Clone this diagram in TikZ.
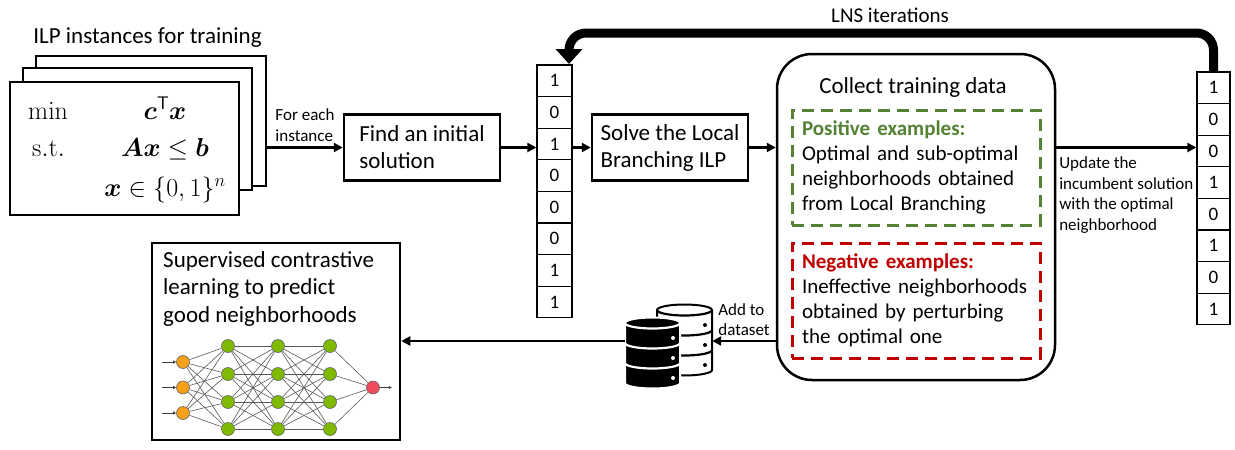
\documentclass[tikz,border=0pt]{standalone}
\usepackage{fix-cm}
\usepackage{amsmath}
\usepackage{amssymb}
\usepackage[no-math]{fontspec}
\setmainfont{Carlito}
\usetikzlibrary{arrows.meta}

\definecolor{posgreen}{HTML}{548235}
\definecolor{negred}{HTML}{C00000}
\definecolor{nnorange}{HTML}{F7A11A}
\definecolor{nngreen}{HTML}{7FBA00}
\definecolor{nnred}{HTML}{F04C5C}

\tikzset{
	stepbox/.style={draw, line width=2.5pt, align=left, minimum width=156pt, minimum height=66pt, font=\fontsize{23}{27}\selectfont},
	card/.style={draw, line width=2.5pt, fill=white},
	mathtxt/.style={inner sep=0pt, font=\fontsize{26}{30}\selectfont},
	bitcell/.style={draw, line width=1.3pt, minimum height=31.6pt, inner sep=0pt, font=\fontsize{19}{19}\selectfont},
	flow/.style={line width=2.5pt, -{Triangle[length=9pt,width=9pt]}},
	smalltxt/.style={align=left, inner sep=2pt, font=\fontsize{17}{20.5}\selectfont},
	examplebox/.style={line width=3pt, dash pattern=on 12pt off 7pt, text width=228pt, align=left, inner xsep=10pt, minimum height=115pt, font=\fontsize{21}{25}\selectfont},
	nnunit/.style={circle, draw=black!60, line width=0.6pt, minimum size=13pt, inner sep=0pt},
	nnedge/.style={black!65, line width=0.6pt},
	nnarrow/.style={black!75, line width=0.7pt, -{Triangle[length=3pt,width=3pt]}},
	dbhold/.style={inner sep=0pt, minimum width=55pt}
}

% stacked disks of a database icon: left x, top y, body colour, line colour
\newcommand{\dbdisks}[4]{%
	\begin{scope}[shift={(#1,-#2)}]
		\filldraw[fill=#3, draw=#4, line width=2pt]
			(0,0) -- (0,-60) arc[start angle=180, end angle=360, x radius=27.5, y radius=5.5]
			-- (55,0) arc[start angle=0, end angle=180, x radius=27.5, y radius=5.5] -- cycle;
		\foreach \k in {0,1,2}
			\draw[#4, line width=2.2pt] (0,-20*\k) arc[start angle=180, end angle=360, x radius=27.5, y radius=5.5];
		\foreach \k in {0,1,2}
			\fill[#4] (48,{-15-20*\k}) circle (2);
	\end{scope}}

\begin{document}
\begin{tikzpicture}[x=1pt, y=1pt]
	\useasboundingbox (0,0) rectangle (1235,-450);

	% ILP instances
	\node[font=\fontsize{23}{27}\selectfont] (ilptitle) at (147.5,-38) {ILP instances for training};
	\node[card, minimum width=230pt, minimum height=130pt] (card3) at (151,-121) {};
	\node[card, minimum width=229pt, minimum height=122pt] (card2) at (137.5,-129) {};
	\node[card, minimum width=229pt, minimum height=133pt] (card1) at (124.5,-148.5) {};
	\node[mathtxt, anchor=base west] (min) at (28,-119) {$\min$};
	\node[mathtxt, anchor=base west] (st) at (32,-156) {$\mathrm{s.t.}$};
	\node[mathtxt, anchor=base] (obj) at (165,-119) {$\boldsymbol{c}^{\mathsf{T}}\boldsymbol{x}$};
	\node[mathtxt, anchor=base] (con) at (165,-156) {$\boldsymbol{Ax}\leq\boldsymbol{b}$};
	\node[mathtxt, anchor=base] (dom) at (165,-196) {$\boldsymbol{x}\in\{0,1\}^n$};

	\node[stepbox] (find) at (422,-147.5) {Find an initial\\solution};
	\node[stepbox] (solve) at (670,-147.5) {Solve the Local\\Branching ILP};

	% incumbent solutions
	\foreach \bit [count=\i] in {1,0,1,0,0,0,1,1}
		\node[bitcell, minimum width=35pt] (v1-\i) at (554.5,{-80.8-31.6*(\i-1)}) {\bit};
	\foreach \bit [count=\i] in {1,0,0,1,0,1,0,1}
		\node[bitcell, minimum width=33pt] (v2-\i) at (1213.5,{-87.8-31.6*(\i-1)}) {\bit};

	% collect training data
	\node[draw, line width=2.5pt, rounded corners=35pt, minimum width=278pt, minimum height=326pt] (collect) at (916,-217) {};
	\node[font=\fontsize{23}{27}\selectfont] (collecttitle) at (913,-87) {Collect training data};
	\node[examplebox, draw=posgreen] (pos) at (916,-167.5) {\textcolor{posgreen}{\textbf{Positive examples:}}\\Optimal and sub-optimal\\neighborhoods obtained\\from Local Branching};
	\node[examplebox, draw=negred] (neg) at (916,-300.5) {\textcolor{negred}{\textbf{Negative examples:}}\\Ineffective neighborhoods\\obtained by perturbing\\the optimal one};

	% dataset
	\dbdisks{657}{310}{white}{black}
	\dbdisks{625}{323}{black}{white}
	\node[dbhold, minimum height=72pt] (dbw) at (684.5,-341) {};
	\node[dbhold, minimum height=70pt] (dbb) at (652.5,-353) {};

	% learning box with network
	\node[draw, line width=2.5pt, minimum width=248pt, minimum height=197pt] (learn) at (276,-341.5) {};
	\node[anchor=north west, align=left, inner sep=0pt, font=\fontsize{23}{27.5}\selectfont] (learntxt) at (163,-251) {Supervised contrastive\\learning to predict\\good neighborhoods};
	\foreach \y [count=\i] in {362,387.5,413}
		\node[nnunit, fill=nnorange] (in\i) at (183,-\y) {};
	\foreach \l/\x in {1/228,2/278,3/330}
		\foreach \y [count=\i] in {346,374,402,429}
			\node[nnunit, fill=nngreen] (h\l-\i) at (\x,-\y) {};
	\node[nnunit, fill=nnred] (out) at (373,-387.5) {};
	\foreach \i in {1,2,3}
		\foreach \j in {1,...,4}
			\draw[nnedge] (in\i) -- (h1-\j);
	\foreach \a/\b in {1/2,2/3}
		\foreach \i in {1,...,4}
			\foreach \j in {1,...,4}
				\draw[nnedge] (h\a-\i) -- (h\b-\j);
	\foreach \i in {1,...,4}
		\draw[nnedge] (h3-\i) -- (out);
	\foreach \i in {1,2,3}
		\draw[nnarrow] ([xshift=-14pt]in\i.west) -- (in\i);
	\draw[nnarrow] (out) -- ([xshift=12pt]out.east);

	% connectors
	\draw[flow] (card3.east |- find.west) to node[smalltxt, midway, above=3pt] {For each\\instance} (find.west);
	\draw[flow] (find.east) -- (find.east -| v1-3.west);
	\draw[flow] (v1-3.east |- solve.west) -- (solve.west);
	\draw[flow] (solve.east) -- (solve.east -| collect.west);
	\draw[flow] (collect.east |- solve.east) to node[smalltxt, midway, below=6pt] {Update the\\incumbent solution\\with the optimal\\neighborhood} (v2-3.west |- solve.east);
	\draw[flow] (collect.west |- dbw.east) to node[smalltxt, midway, above=2pt] {Add to\\dataset} (dbw.east);
	\draw[flow] (dbb.west |- dbw.east) -- (learn.east |- dbw.east);

	% LNS loop
	\coordinate (lnstop) at (569,-33);
	\coordinate (lnsin) at (569,-64);
	\draw[line width=9pt, rounded corners=17pt, -{Triangle[length=15pt,width=26pt]}] (v2-1.north) |- (lnstop) -- (lnsin);
	\node[font=\fontsize{21}{25}\selectfont] (lnslabel) at (890,-15) {LNS iterations};
\end{tikzpicture}
\end{document}
